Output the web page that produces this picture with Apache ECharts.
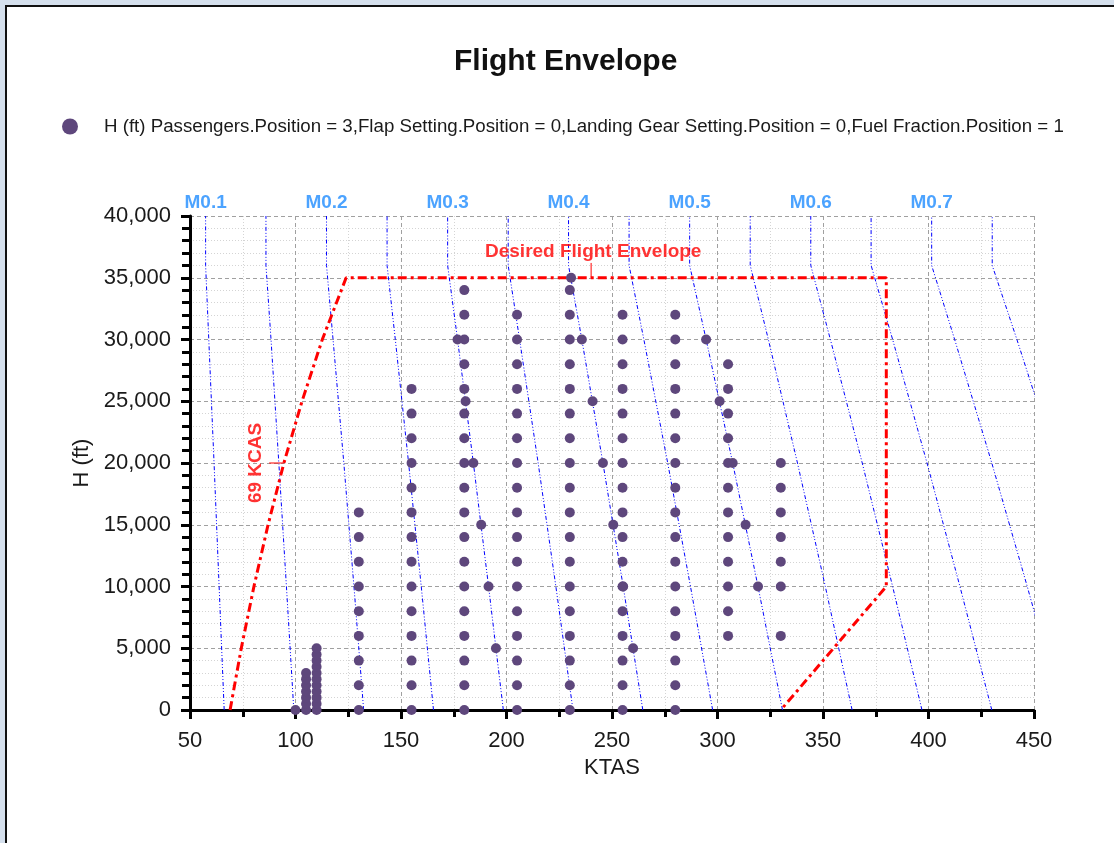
<!DOCTYPE html>
<html>
<head>
<meta charset="utf-8">
<title>Flight Envelope</title>
<script src="https://cdn.jsdelivr.net/npm/echarts@6/dist/echarts.min.js"></script>
<style>
  html, body { margin: 0; padding: 0; background: #d5e0ed; }
  #frame {
    position: absolute; left: 5px; top: 5px; width: 1109px; height: 838px;
    background: #fff; border-left: 2px solid #111; border-top: 2px solid #111;
    box-sizing: border-box;
  }
  #envelope { position: absolute; left: 0; top: 0; width: 1114px; height: 843px; }
</style>
</head>
<body>
<div id="frame"></div>
<div id="envelope"></div>
<script>
// test points, one column per airspeed (KTAS) with its altitudes (ft)
var colKtas = [100, 105, 110, 130, 155, 180, 205, 230, 255, 280, 305, 330];
var colAlts = [
  [0],
  [0, 500, 1000, 1500, 2000, 2500, 3000],
  [0, 500, 1000, 1500, 2000, 2500, 3000, 3500, 4000, 4500, 5000],
  [0, 2000, 4000, 6000, 8000, 10000, 12000, 14000, 16000],
  [0, 2000, 4000, 6000, 8000, 10000, 12000, 14000, 16000, 18000, 20000, 22000, 24000, 26000],
  [0, 2000, 4000, 6000, 8000, 10000, 12000, 14000, 16000, 18000, 20000, 22000, 24000, 26000, 28000, 30000, 32000, 34000],
  [0, 2000, 4000, 6000, 8000, 10000, 12000, 14000, 16000, 18000, 20000, 22000, 24000, 26000, 28000, 30000, 32000],
  [0, 2000, 4000, 6000, 8000, 10000, 12000, 14000, 16000, 18000, 20000, 22000, 24000, 26000, 28000, 30000, 32000, 34000],
  [0, 2000, 4000, 6000, 8000, 10000, 12000, 14000, 16000, 18000, 20000, 22000, 24000, 26000, 28000, 30000, 32000],
  [0, 2000, 4000, 6000, 8000, 10000, 12000, 14000, 16000, 18000, 20000, 22000, 24000, 26000, 28000, 30000, 32000],
  [6000, 8000, 10000, 12000, 14000, 16000, 18000, 20000, 22000, 24000, 26000, 28000],
  [6000, 10000, 12000, 14000, 16000, 18000, 20000]
];
// extra test points sitting on the M0.3 / M0.4 / M0.5 lines
var machPtKtas = [195, 191.5, 188, 184.3, 180.6, 176.8,
                  260, 255.3, 250.6, 245.7, 240.8, 235.7, 230.6,
                  319.2, 313.3, 307.2, 301, 294.6];
var machPtAlt  = [5000, 10000, 15000, 20000, 25000, 30000,
                  5000, 10000, 15000, 20000, 25000, 30000, 35000,
                  10000, 15000, 20000, 25000, 30000];

// constant Mach lines M0.10 .. M0.75 (KTAS at each altitude)
var machLineAlt = [0, 10000, 20000, 30000, 36000, 40000];
var machLineKtas = [
  [66.2, 63.8, 61.4, 58.9, 57.4, 57.4],
  [99.2, 95.7, 92.1, 88.4, 86.0, 86.0],
  [132.3, 127.7, 122.9, 117.8, 114.7, 114.7],
  [165.4, 159.6, 153.6, 147.3, 143.4, 143.4],
  [198.5, 191.5, 184.3, 176.8, 172.1, 172.1],
  [231.5, 223.4, 215.0, 206.2, 200.8, 200.8],
  [264.6, 255.3, 245.7, 235.7, 229.4, 229.4],
  [297.7, 287.2, 276.4, 265.1, 258.1, 258.1],
  [330.8, 319.2, 307.2, 294.6, 286.8, 286.8],
  [363.8, 351.1, 337.9, 324.1, 315.5, 315.5],
  [396.9, 383.0, 368.6, 353.5, 344.2, 344.2],
  [430.0, 414.9, 399.3, 383.0, 372.8, 372.8],
  [463.1, 446.8, 430.0, 412.4, 401.5, 401.5],
  [496.1, 478.7, 460.7, 441.9, 430.2, 430.2]
];
var machLabels = ['M0.1', 'M0.2', 'M0.3', 'M0.4', 'M0.5', 'M0.6', 'M0.7'];

// desired flight envelope (69 KCAS left edge)
var envKtas = [69, 74.3, 80.3, 87.0, 94.5, 103.1, 112.7, 124, 380, 380, 330];
var envAlt  = [0, 5000, 10000, 15000, 20000, 25000, 30000, 35000, 35000, 10000, 0];

var xTicks = {min: 50, max: 450, interval: 50};
var yTicks = {min: 0, max: 40000, interval: 5000};

var seriesName = 'H (ft) Passengers.Position = 3,Flap Setting.Position = 0,Landing Gear Setting.Position = 0,Fuel Fraction.Position = 1';

var chart = echarts.init(document.getElementById('envelope'));

var points = [];
colKtas.forEach(function (k, i) {
  colAlts[i].forEach(function (h) { points.push([k, h]); });
});
machPtKtas.forEach(function (k, i) { points.push([k, machPtAlt[i]]); });

var series = [];
machLineKtas.forEach(function (row) {
  series.push({
    type: 'line', silent: true, symbol: 'none', z: 1,
    data: row.map(function (k, j) { return [k, machLineAlt[j]]; }),
    lineStyle: {color: '#0000ff', width: 1, type: [4, 2, 1, 2, 1, 2]}
  });
});
series.push({
  type: 'line', silent: true, symbol: 'none', z: 2,
  data: envKtas.map(function (k, i) { return [k, envAlt[i]]; }),
  lineStyle: {color: '#ff0000', width: 3, type: [9, 4, 3, 4]}
});
// leaders for the two red notes
series.push({
  type: 'line', silent: true, symbol: 'none', z: 2,
  data: [[240.1, 35000], [240.1, 36200]],
  lineStyle: {color: '#ff0000', width: 1}
});
series.push({
  type: 'line', silent: true, symbol: 'none', z: 2,
  data: [[87.5, 20000], [94.5, 20000]],
  lineStyle: {color: '#ff0000', width: 1}
});
series.push({
  type: 'scatter', name: seriesName, z: 5,
  symbol: 'circle', symbolSize: 10,
  itemStyle: {color: '#5e477c', opacity: 1},
  data: points
});
// Mach labels above the plot
series.push({
  type: 'scatter', silent: true, clip: false, symbolSize: 0, z: 6,
  data: machLabels.map(function (t, i) { return {value: [machLineKtas[i * 2][5], 40000], name: t}; }),
  label: {show: true, position: 'top', distance: 4, formatter: '{b}',
          color: '#1f8cff', fontWeight: 'bold', fontSize: 19, fontFamily: 'Liberation Sans'}
});
series.push({
  type: 'scatter', silent: true, clip: false, symbolSize: 0, z: 6,
  data: [{value: [241.1, 37100], name: 'Desired Flight Envelope'}],
  label: {show: true, position: 'inside', formatter: '{b}',
          color: '#ff0000', fontWeight: 'bold', fontSize: 19, fontFamily: 'Liberation Sans'}
});
series.push({
  type: 'scatter', silent: true, clip: false, symbolSize: 0, z: 6,
  data: [{value: [81.4, 20000], name: '69 KCAS'}],
  label: {show: true, position: 'inside', rotate: 90, formatter: '{b}',
          color: '#ff0000', fontWeight: 'bold', fontSize: 19, fontFamily: 'Liberation Sans'}
});

var option = {
  animation: false,
  textStyle: {fontFamily: 'Liberation Sans'},
  title: {
    text: 'Flight Envelope', left: 449, top: 42,
    textStyle: {fontSize: 30, fontWeight: 'bold', color: '#111', fontFamily: 'Liberation Sans'}
  },
  legend: {
    data: [seriesName], left: 57, top: 112,
    itemWidth: 16, itemHeight: 16, icon: 'circle',
    textStyle: {fontSize: 18.7, color: '#1a1a1a', fontFamily: 'Liberation Sans', padding: [0, 0, 0, 21]}
  },
  grid: {left: 190, right: 80, top: 216, bottom: 133},
  xAxis: {
    type: 'value', min: xTicks.min, max: xTicks.max, interval: xTicks.interval,
    name: 'KTAS', nameLocation: 'middle', nameGap: 47,
    nameTextStyle: {fontSize: 22, color: '#1a1a1a'},
    axisLine: {lineStyle: {color: '#000', width: 3}},
    axisTick: {length: 9, lineStyle: {color: '#000', width: 3}},
    minorTick: {show: true, splitNumber: 2, length: 7, lineStyle: {color: '#000', width: 3}},
    axisLabel: {fontSize: 22, color: '#1a1a1a', margin: 20},
    splitLine: {show: true, lineStyle: {color: '#a0a0a0', type: [4, 3], width: 1}},
    minorSplitLine: {show: true, lineStyle: {color: '#d4d4d4', type: [1, 2], width: 1}}
  },
  yAxis: {
    type: 'value', min: yTicks.min, max: yTicks.max, interval: yTicks.interval,
    name: 'H (ft)', nameLocation: 'middle', nameGap: 91,
    nameTextStyle: {fontSize: 22, color: '#1a1a1a'},
    axisLine: {show: true, lineStyle: {color: '#000', width: 3}},
    axisTick: {show: true, length: 9, lineStyle: {color: '#000', width: 3}},
    minorTick: {show: true, splitNumber: 5, length: 8, lineStyle: {color: '#000', width: 3}},
    axisLabel: {fontSize: 22, color: '#1a1a1a', margin: 19,
                formatter: function (v) { return v.toLocaleString('en-US'); }},
    splitLine: {show: true, lineStyle: {color: '#a0a0a0', type: [4, 3], width: 1}},
    minorSplitLine: {show: true, lineStyle: {color: '#d4d4d4', type: [1, 2], width: 1}}
  },
  series: series
};

chart.setOption(option);
</script>
</body>
</html>
